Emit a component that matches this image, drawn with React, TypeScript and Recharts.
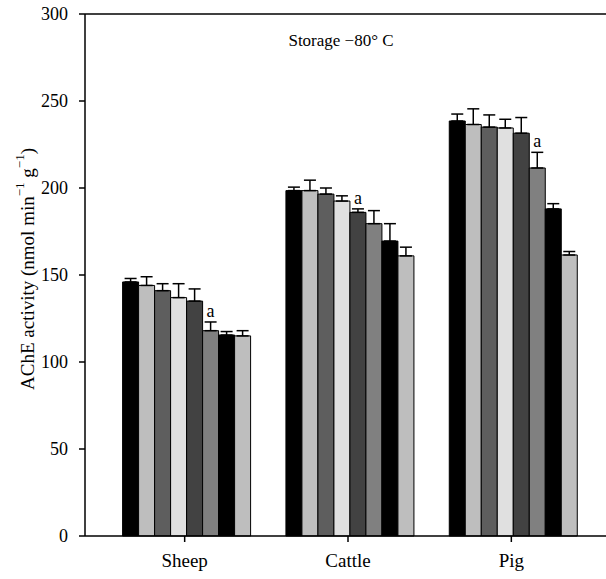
import React from "react";
import {
  BarChart,
  Bar,
  XAxis,
  YAxis,
  ErrorBar,
  LabelList,
  ReferenceLine,
} from "recharts";

const categories = ["Sheep", "Cattle", "Pig"];

// mean activity of each of the 8 bars per species
const s1 = [146, 198.5, 238.5];
const s2 = [144, 198.5, 236.5];
const s3 = [141, 196.5, 235];
const s4 = [137, 192.5, 234.5];
const s5 = [135, 186, 231.5];
const s6 = [118, 179.5, 211.5];
const s7 = [115.5, 169.5, 188];
const s8 = [115, 161, 161.5];

// upper error (SD)
const e1 = [2, 2, 4];
const e2 = [5, 6, 9];
const e3 = [4, 3.5, 7];
const e4 = [8, 3, 5];
const e5 = [7, 2, 9];
const e6 = [5, 7.5, 9];
const e7 = [2, 10, 3];
const e8 = [3, 5, 2];

// significance marks
const m5 = ["", "a", ""];
const m6 = ["a", "", "a"];

const yTicks = [0, 50, 100, 150, 200, 250, 300];

const values = [s1, s2, s3, s4, s5, s6, s7, s8];
const errors = [e1, e2, e3, e4, e5, e6, e7, e8];
const marks = [null, null, null, null, m5, m6, null, null];
const colors = [
  "#000000",
  "#bebebe",
  "#5e5e5e",
  "#e0e0e0",
  "#424242",
  "#808080",
  "#000000",
  "#bebebe",
];

const data = categories.map((name, ci) => {
  const row: any = { name };
  values.forEach((v, si) => {
    row[`v${si}`] = v[ci];
    row[`e${si}`] = [0, errors[si][ci]];
    row[`m${si}`] = marks[si] ? marks[si]![ci] : "";
  });
  return row;
});

const FONT = "'Liberation Serif', 'DejaVu Serif', serif";
const PLOT_H = 522;
const pxPerUnit = PLOT_H / 300;

const makeMark = (si: number) => (props: any) => {
  const { x, y, width, index, value } = props;
  if (!value) return null;
  const err = errors[si][index];
  return (
    <text
      x={x + width / 2}
      y={y - err * pxPerUnit - 5}
      textAnchor="middle"
      fontFamily={FONT}
      fontSize={18}
      fill="#000"
    >
      {value}
    </text>
  );
};

const YLabel = (props: any) => {
  const { viewBox } = props;
  const cx = 27;
  const cy = viewBox.y + viewBox.height / 2 - 6;
  return (
    <text
      x={cx}
      y={cy}
      transform={`rotate(-90, ${cx}, ${cy})`}
      textAnchor="middle"
      dominantBaseline="central"
      fontFamily={FONT}
      fontSize={19}
      fill="#000"
    >
      AChE activity (nmol min
      <tspan baselineShift="super" fontSize={13}>
        −1
      </tspan>{" "}
      g
      <tspan baselineShift="super" fontSize={13}>
        −1
      </tspan>
      )
    </text>
  );
};

export default function App() {
  return (
    <div
      style={{
        position: "absolute",
        left: 0,
        top: 0,
        width: 606,
        height: 579,
        overflow: "hidden",
        background: "#fff",
      }}
    >
      <BarChart
        width={611}
        height={579}
        data={data}
        margin={{ top: 14, right: 0, bottom: 0, left: 0 }}
        barCategoryGap="12%"
        barGap={0}
      >
        <XAxis
          dataKey="name"
          height={43}
          padding={{ left: 18, right: 18 }}
          stroke="#000"
          strokeWidth={1.5}
          tickSize={6}
          tickMargin={12}
          tick={{ fill: "#000", fontFamily: FONT, fontSize: 19 }}
        />
        <YAxis
          width={85}
          domain={[0, 300]}
          ticks={yTicks}
          interval={0}
          stroke="#000"
          strokeWidth={1.5}
          tickSize={6}
          tickMargin={11}
          tick={{ fill: "#000", fontFamily: FONT, fontSize: 18 }}
          label={{ content: <YLabel /> }}
        />
        <ReferenceLine y={300} stroke="#000" strokeWidth={1.5} />
        {values.map((_, si) => (
          <Bar
            key={si}
            dataKey={`v${si}`}
            fill={colors[si]}
            stroke="#000"
            strokeWidth={1}
            isAnimationActive={false}
          >
            <ErrorBar
              dataKey={`e${si}`}
              width={6}
              stroke="#000"
              strokeWidth={1.5}
              direction="y"
            />
            {marks[si] && (
              <LabelList dataKey={`m${si}`} content={makeMark(si)} />
            )}
          </Bar>
        ))}
      </BarChart>
      <div
        style={{
          position: "absolute",
          left: 241,
          width: 200,
          top: 31,
          textAlign: "center",
          fontFamily: FONT,
          fontSize: 17,
          color: "#000",
        }}
      >
        Storage −80° C
      </div>
    </div>
  );
}
